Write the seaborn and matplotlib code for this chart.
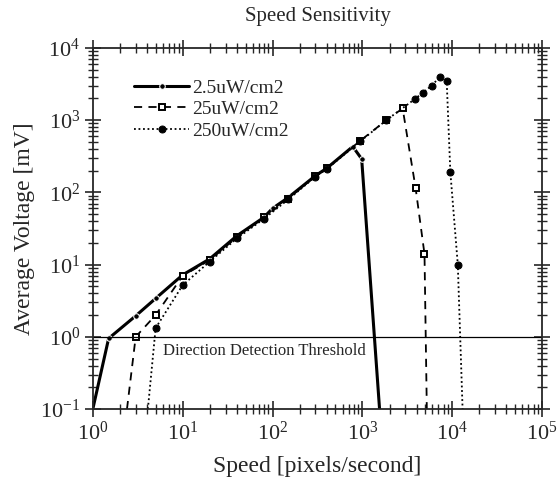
import pandas as pd
import seaborn as sns
import matplotlib.pyplot as plt
from matplotlib.ticker import LogLocator, NullFormatter

# data (speed in pixels/s, voltage in mV)
speed_25 = [1, 1.5, 3, 5, 10, 20, 40, 80, 100, 150, 300, 400, 780, 980, 1550]
volt_25 = [0.1, 0.95, 1.95, 3.4, 7.2, 12, 25, 45, 60, 85, 170, 215, 430, 290, 0.1]

speed_250 = [2.4, 3, 5, 10, 20, 40, 80, 150, 300, 400, 950, 1850, 2800, 3900, 4900, 5200]
volt_250 = [0.1, 1.0, 2.0, 7.0, 11.5, 24, 45, 82, 170, 215, 520, 1000, 1450, 115, 14, 0.1]

speed_2500 = [4.1, 5, 10, 20, 40, 80, 150, 300, 400, 950, 1850, 3800, 4700, 5900, 7250, 8650, 9500, 11500, 13000]
volt_2500 = [0.1, 1.32, 5.2, 11, 23, 43, 80, 165, 210, 510, 1000, 1940, 2400, 3000, 3950, 3500, 190, 10, 0.1]

labels = ["2.5uW/cm2", "25uW/cm2", "250uW/cm2"]
threshold = 1.0

sns.set_style("ticks")
plt.rcParams['font.family'] = 'serif'
plt.rcParams['font.serif'] = ['Liberation Serif', 'DejaVu Serif']
plt.rcParams['mathtext.fontset'] = 'custom'
plt.rcParams['mathtext.rm'] = 'Liberation Serif'
plt.rcParams['axes.unicode_minus'] = False

fig = plt.figure(figsize=(5.59, 4.83), dpi=100)
ax = fig.add_axes([0.166, 0.153, 0.804, 0.748])

df1 = pd.DataFrame({'x': speed_25, 'y': volt_25})
df2 = pd.DataFrame({'x': speed_250, 'y': volt_250})
df3 = pd.DataFrame({'x': speed_2500, 'y': volt_2500})

# points sitting on the bottom axis carry no marker in the original
def inner(n):
    return list(range(1, n - 1))

sns.lineplot(data=df1, x='x', y='y', ax=ax, color='black', lw=2.2,
             marker='o', markersize=4, markevery=inner(len(df1)),
             estimator=None, label=labels[0])
sns.lineplot(data=df2, x='x', y='y', ax=ax, color='black', lw=1.3,
             linestyle=(0, (4.5, 3.5)), marker='s', markersize=5,
             markerfacecolor='white', markeredgecolor='black', markeredgewidth=1.4,
             markevery=inner(len(df2)), estimator=None, label=labels[1])
sns.lineplot(data=df3, x='x', y='y', ax=ax, color='black', lw=1.3,
             linestyle=(0, (1, 1.5)), marker='o', markersize=5,
             markeredgecolor='black', markevery=inner(len(df3)),
             estimator=None, label=labels[2])

ax.axhline(threshold, color='black', lw=0.9)
ax.text(6, 0.64, "Direction Detection Threshold", fontsize=12, va='center')

ax.set_xscale('log')
ax.set_yscale('log')
ax.set_xlim(1, 1e5)
ax.set_ylim(0.1, 1e4)

for a in (ax.xaxis, ax.yaxis):
    a.set_major_locator(LogLocator(base=10, numticks=10))
    a.set_minor_locator(LogLocator(base=10, subs=range(2, 10), numticks=20))
    a.set_minor_formatter(NullFormatter())
ax.tick_params(which='major', direction='inout', length=11, width=1.2,
               top=True, right=True, labelsize=16)
ax.tick_params(which='minor', direction='inout', length=7, width=1.0,
               top=True, right=True)
for s in ax.spines.values():
    s.set_linewidth(1.3)

ax.set_xlabel("Speed [pixels/second]", fontsize=17, labelpad=8)
ax.set_ylabel("Average Voltage [mV]", fontsize=17, labelpad=4)
ax.set_title("Speed Sensitivity", fontsize=15, pad=19)

ax.legend(loc='upper left', bbox_to_anchor=(0.075, 0.935), frameon=False,
          fontsize=14, handlelength=2.8, handletextpad=0.2, labelspacing=0.2,
          borderaxespad=0)

plt.savefig('out.png', dpi=100)
